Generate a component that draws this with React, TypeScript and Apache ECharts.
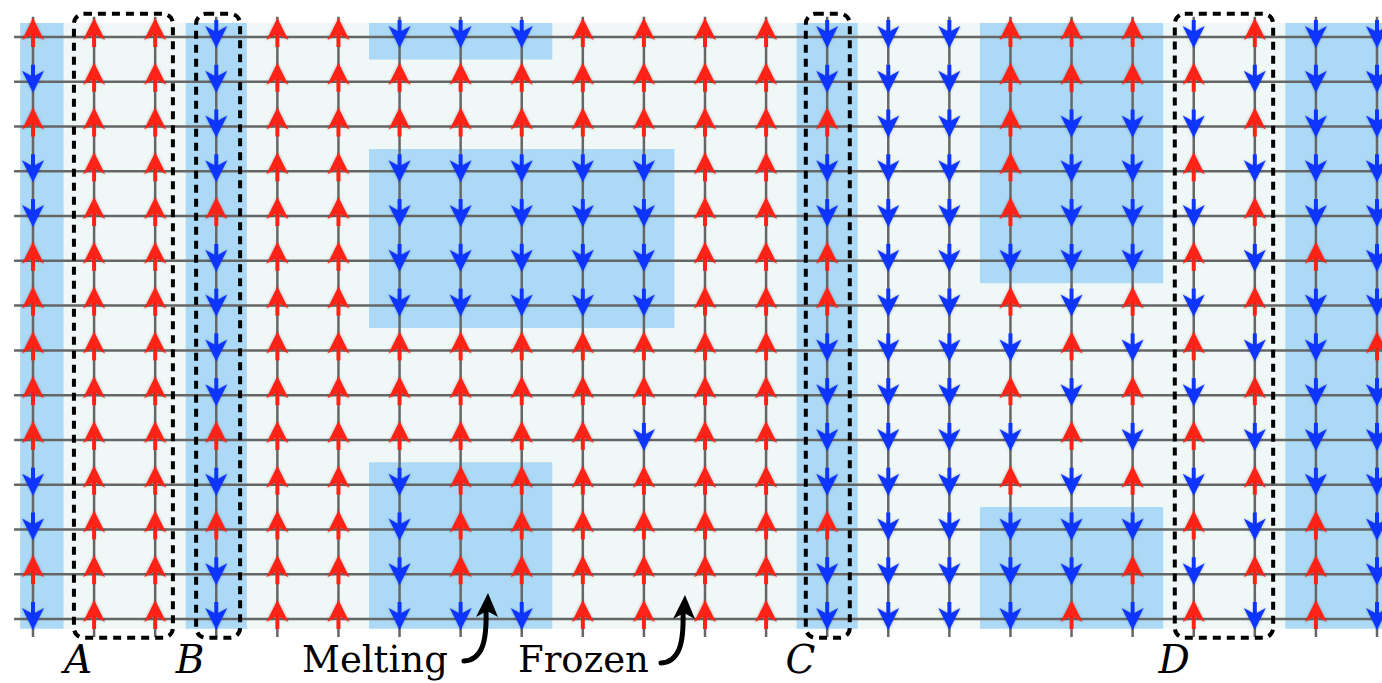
import React, { useEffect, useRef } from "react";
import * as echarts from "echarts";

// Spin of every lattice site, one string per column, top row first: U = up (red), D = down (blue)
const columnSpins: string[] = [
  "UDUDDUUUUUDDUD",
  "UUUUUUUUUUUUUU",
  "UUUUUUUUUUUUUU",
  "DDDDUDDDDUDUDD",
  "UUUUUUUUUUUUUU",
  "UUUUUUUUUUUUUU",
  "DUUDDDDUUUDDDD",
  "DUUDDDDUUUUUUD",
  "DUUDDDDUUUUUUD",
  "UUUDDDDUUUUUUU",
  "UUUDDDDUUDUUUU",
  "UUUUUUUUUUUUUU",
  "UUUUUUUUUUUUUU",
  "DDUDDUUDDDDUDD",
  "DDDDDDDDDDDDDD",
  "DDDDDDDDDDDDDD",
  "UUUUUDUDUDUDDD",
  "UUDDDDDUDUDDDU",
  "UUDDDDUDUDUDUD",
  "DUDUDUDUDUDUDU",
  "UDUDUDUDUDUDUD",
  "DDDDDUDDDDDUUU",
  "DDDDDDDUDDDDDD",
];

// lattice panel extent in site units: [colFrom, colTo, rowFrom, rowTo]
const latticeExtent: number[][] = [[-0.21, 22.3, -0.31, 13.22]];

// melting (shaded) regions in site units: [colFrom, colTo, rowFrom, rowTo]
const meltingRegions: number[][] = [
  [-0.21, 0.5, -0.31, 13.22],
  [2.5, 3.5, -0.31, 13.22],
  [5.5, 8.5, -0.31, 0.5],
  [5.5, 10.5, 2.5, 6.5],
  [5.5, 8.5, 9.5, 13.22],
  [12.5, 13.5, -0.31, 13.22],
  [15.5, 18.5, -0.31, 5.5],
  [15.5, 18.5, 10.5, 13.22],
  [20.5, 22.3, -0.31, 13.22],
];

// highlighted chains: label, colFrom, colTo, label column
const chainLabels: string[] = ["A", "B", "C", "D"];
const chainFrom: number[] = [0.67, 2.67, 12.65, 18.69];
const chainTo: number[] = [2.29, 3.39, 13.37, 20.3];
const chainLabelCol: number[] = [0.74, 2.57, 12.56, 18.68];

const annotationTexts: string[] = ["Melting", "Frozen"];

const RED = "#ff2214";
const BLUE = "#0f36ff";
const PANEL = "#eff7f7";
const MELT = "#acdaf6";
const LINE = "#666666";
const SERIF = "DejaVu Serif";

export default function App() {
  const ref = useRef<HTMLDivElement>(null);

  useEffect(() => {
    if (!ref.current) return;
    const chart = echarts.init(ref.current, undefined, { renderer: "svg" });
    const nCols = columnSpins.length;
    const nRows = columnSpins[0].length;

    const sites: number[][] = [];
    columnSpins.forEach((col, c) => {
      for (let r = 0; r < col.length; r++) sites.push([c, r, col[r] === "U" ? 1 : -1]);
    });

    const rectItem = (regions: number[][], fill: string) => (params: any, api: any) => {
      const g = regions[params.dataIndex];
      const p0 = api.coord([g[0], g[2]]);
      const p1 = api.coord([g[1], g[3]]);
      return {
        type: "rect",
        shape: { x: p0[0], y: p0[1], width: p1[0] - p0[0], height: p1[1] - p0[1] },
        style: { fill },
      };
    };

    const lineItems: number[][] = [];
    for (let c = 0; c < nCols; c++) lineItems.push([0, c]);
    for (let r = 0; r < nRows; r++) lineItems.push([1, r]);

    const option: any = {
      animation: false,
      backgroundColor: "#ffffff",
      grid: { left: 33, top: 37, width: 1344, height: 582 },
      xAxis: { type: "value", min: 0, max: nCols - 1, show: false },
      yAxis: { type: "value", min: 0, max: nRows - 1, inverse: true, show: false },
      graphic: [
        ...annotationTexts.map((t, i) => ({
          type: "text",
          z: 100,
          style: {
            text: t,
            x: i === 0 ? 302 : 518,
            y: 659,
            fontSize: 37,
            fontFamily: SERIF,
            fill: "#000",
            align: "left",
            verticalAlign: "middle",
          },
        })),
        ...annotationTexts.map((_, i) => ({
          type: "group",
          x: i === 0 ? 0 : 197,
          y: i === 0 ? 0 : 2,
          z: 100,
          children: [
            {
              type: "bezierCurve",
              z: 100,
              shape: { x1: 464, y1: 661, cpx1: 482, cpy1: 660, cpx2: 487, cpy2: 642, x2: 486, y2: 610 },
              style: { stroke: "#000", lineWidth: 5, fill: "none", lineCap: "round" },
            },
            {
              type: "polygon",
              z: 100,
              shape: { points: [[488, 593], [498, 617], [487, 611], [476, 617]] },
              style: { fill: "#000" },
            },
          ],
        })),
      ],
      series: [
        {
          type: "custom",
          z: 1,
          clip: false,
          silent: true,
          data: latticeExtent,
          renderItem: rectItem(latticeExtent, PANEL),
        },
        {
          type: "custom",
          z: 2,
          clip: false,
          silent: true,
          data: meltingRegions,
          renderItem: rectItem(meltingRegions, MELT),
        },
        {
          type: "custom",
          z: 3,
          clip: false,
          silent: true,
          data: lineItems,
          renderItem: (params: any, api: any) => {
            const it = lineItems[params.dataIndex];
            let a, b;
            if (it[0] === 0) {
              a = api.coord([it[1], -0.45]);
              b = api.coord([it[1], 13.4]);
            } else {
              a = api.coord([-0.31, it[1]]);
              b = api.coord([22.3, it[1]]);
            }
            return {
              type: "line",
              shape: { x1: a[0], y1: a[1], x2: b[0], y2: b[1] },
              style: { stroke: LINE, lineWidth: 2.5 },
            };
          },
        },
        {
          type: "custom",
          z: 4,
          clip: false,
          silent: true,
          data: sites,
          renderItem: (params: any, api: any) => {
            const s = sites[params.dataIndex];
            const p = api.coord([s[0], s[1]]);
            const x = p[0];
            const y = p[1];
            const up = s[2] > 0;
            const color = up ? RED : BLUE;
            const dir = up ? -1 : 1;
            const tipY = up ? y - 19 : y + 11;
            const tailY = up ? y + 10 : y - 17;
            const baseY = tipY - dir * 22;
            const notchY = tipY - dir * 16;
            return {
              type: "group",
              children: [
                {
                  type: "rect",
                  shape: { x: x - 2, y: Math.min(tailY, notchY), width: 4, height: Math.abs(notchY - tailY) },
                  style: { fill: color },
                },
                {
                  type: "polygon",
                  shape: { points: [[x, tipY], [x + 11, baseY], [x, notchY], [x - 11, baseY]] },
                  style: { fill: color, shadowBlur: 3, shadowColor: "rgba(0,0,0,0.3)" },
                },
              ],
            };
          },
        },
        {
          type: "custom",
          z: 5,
          clip: false,
          silent: true,
          data: chainLabels.map((_, i) => [chainFrom[i], chainTo[i]]),
          renderItem: (params: any, api: any) => {
            const i = params.dataIndex;
            const p0 = api.coord([chainFrom[i], -0.52]);
            const p1 = api.coord([chainTo[i], 13.42]);
            const lp = api.coord([chainLabelCol[i], 13.9]);
            return {
              type: "group",
              children: [
                {
                  type: "rect",
                  shape: { x: p0[0], y: p0[1], width: p1[0] - p0[0], height: p1[1] - p0[1], r: 10 },
                  style: { fill: "none", stroke: "#000", lineWidth: 4, lineDash: [8, 6] },
                },
                {
                  type: "text",
                  style: {
                    text: chainLabels[i],
                    x: lp[0],
                    y: lp[1],
                    fontSize: 39,
                    fontStyle: "italic",
                    fontFamily: SERIF,
                    fill: "#000",
                    align: "center",
                    verticalAlign: "middle",
                  },
                },
              ],
            };
          },
        },
      ],
    };
    chart.setOption(option);
    return () => chart.dispose();
  }, []);

  return (
    <div
      ref={ref}
      style={{ position: "fixed", left: 0, top: 0, width: 1382, height: 683, background: "#fff" }}
    />
  );
}
